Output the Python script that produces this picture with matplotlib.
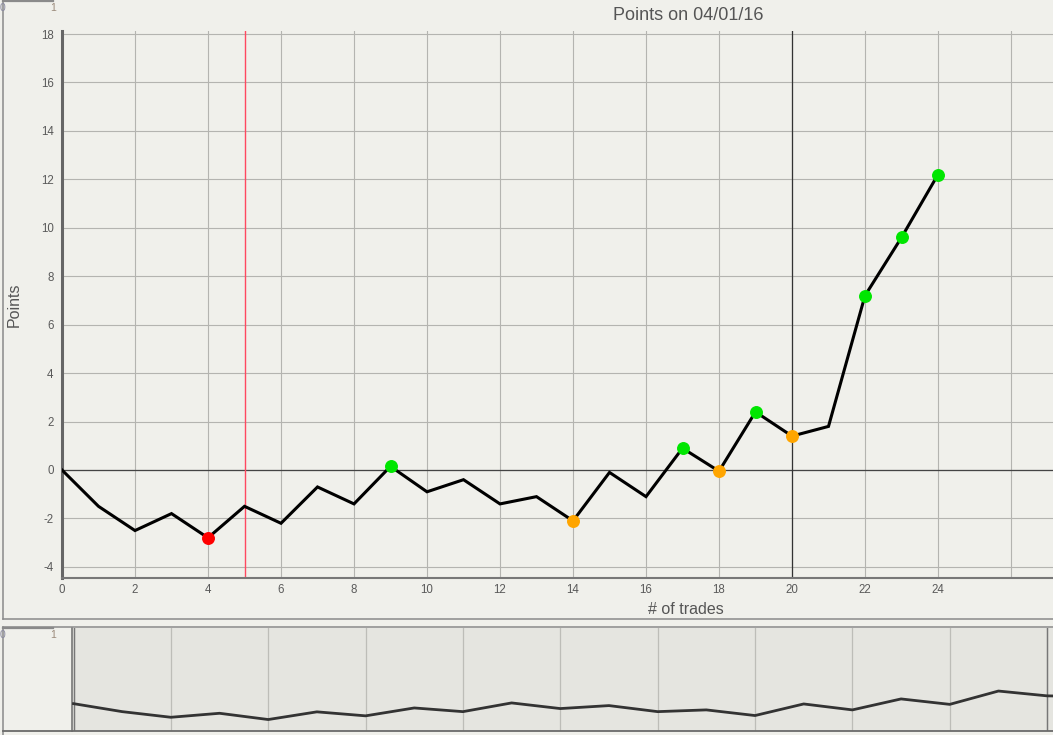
import matplotlib
matplotlib.use("Agg")
import matplotlib.pyplot as plt
from matplotlib.lines import Line2D

# ---- data ----
trades = list(range(25))
points = [0.0, -1.5, -2.5, -1.8, -2.8, -1.5, -2.2, -0.7, -1.4, 0.15,
          -0.9, -0.4, -1.4, -1.1, -2.1, -0.1, -1.1, 0.9, -0.05, 2.4,
          1.4, 1.8, 7.2, 9.6, 12.2]
red_idx = [4]
green_idx = [9, 17, 19, 22, 23, 24]
orange_idx = [14, 18, 20]
xticks = list(range(0, 25, 2))
yticks = list(range(-4, 19, 2))
nav_x = list(range(22))
nav_y = [0.262, 0.184, 0.129, 0.168, 0.107, 0.182, 0.143, 0.220, 0.184, 0.269,
         0.214, 0.243, 0.184, 0.201, 0.146, 0.259, 0.201, 0.308, 0.255, 0.385,
         0.338, 0.330]
title = "Points on 04/01/16"

W, H = 1053, 735
BG = "#f0f0eb"
FONT = ["Liberation Sans", "DejaVu Sans"]
plt.rcParams["font.family"] = FONT
plt.rcParams["axes.unicode_minus"] = False

fig = plt.figure(figsize=(W / 100, H / 100), dpi=100, facecolor=BG)

def px_axes(l, t, r, b):
    return fig.add_axes([l / W, 1 - b / H, (r - l) / W, (b - t) / H])

def fline(xs, ys, **kw):
    fig.add_artist(Line2D([x / W for x in xs], [1 - y / H for y in ys],
                          transform=fig.transFigure, **kw))

# ---- main axes ----
ax = px_axes(62, 31, 1053, 578)
ax.set_facecolor(BG)
ux = 36.5
uy = 24.22
ax.set_xlim(0, (1053 - 62) / ux)
ax.set_ylim(-(578 - 470) / uy, (470 - 31) / uy)
ax.set_xticks(list(range(0, 27, 2)))
ax.set_xticklabels([str(t) if t in xticks else "" for t in range(0, 27, 2)])
ax.set_yticks(yticks)
ax.grid(True, color="#b4b4b0", lw=0.8)
ax.set_axisbelow(True)
for s in ("top", "right"):
    ax.spines[s].set_visible(False)
ax.spines["left"].set_color("#666666")
ax.spines["left"].set_linewidth(2.2)
ax.spines["bottom"].set_color("#777777")
ax.spines["bottom"].set_linewidth(1.5)
ax.tick_params(length=0, labelsize=8.3, labelcolor="#5a5a5a")
ax.tick_params(axis="y", pad=6)
ax.tick_params(axis="x", pad=4)

ax.axhline(0, color="#444444", lw=0.9, zorder=2)
ax.axvline(5, color="#ff4860", lw=1.0, zorder=2)
ax.axvline(20, color="#333333", lw=0.9, zorder=2)

ax.plot(trades, points, color="black", lw=2.2, zorder=3, solid_joinstyle="miter")
for idxs, col in ((red_idx, "#ff0000"), (green_idx, "#00e600"), (orange_idx, "#ffa500")):
    ax.plot([trades[i] for i in idxs], [points[i] for i in idxs], "o",
            color=col, ms=8.3, mec=col, zorder=4)

fig.text(688 / W, 1 - 16 / H, title, ha="center", va="center",
         fontsize=13, color="#555555")
fig.text(686 / W, 1 - 610 / H, "# of trades", ha="center", va="center",
         fontsize=11.5, color="#555555")
fig.text(14 / W, 1 - 305 / H, "Points", ha="center", va="center",
         rotation=90, fontsize=11.5, color="#555555")

# ---- navigator axes ----
nav = px_axes(72, 628, 1053, 730.5)
nav.set_facecolor("#e5e5e0")
x0 = 73.5
ud = 48.68
nav.set_xlim(-(x0 - 72) / ud, (1053 - x0) / ud)
nav.set_ylim(0, 1)
nav.set_xticks(list(range(0, 21, 2)))
nav.set_yticks([])
nav.tick_params(length=0, labelbottom=False)
nav.grid(True, axis="x", color="#bdbdb8", lw=0.9)
for s in ("top", "right", "bottom"):
    nav.spines[s].set_visible(False)
nav.spines["left"].set_color("#777777")
nav.spines["left"].set_linewidth(1.2)
nav.axvline(0, color="#777777", lw=1.0)
nav.axvline(20, color="#777777", lw=1.0)
nav.plot(nav_x, nav_y, color="#333333", lw=2.0, zorder=3)

# ---- frame lines ----
fc = "#8a8a8a"
fline([2.5, 2.5], [0, 619.3], color=fc, lw=1.1)
fline([2.5, 1053], [619.3, 619.3], color=fc, lw=1.1)
fline([2.5, 2.5], [626.7, 735], color=fc, lw=1.1)
fline([2.5, 1053], [626.7, 626.7], color=fc, lw=1.1)
fline([2.5, 1053], [730.5, 730.5], color="#6a6a6a", lw=1.3)
fline([2.5, 53], [0.8, 0.8], color="#8a8a8a", lw=1.6)
fline([2.5, 53], [627.8, 627.8], color="#8a8a8a", lw=1.6)
for yy in (8, 635):
    fig.text(53 / W, 1 - yy / H, "1", ha="center", va="center",
             fontsize=7.5, color="#9a8a7a")
    fig.text(2.5 / W, 1 - yy / H, "0", ha="center", va="center",
             fontsize=7.5, color="#8a8aa0")

fig.savefig("out.png", dpi=100, facecolor=BG)
